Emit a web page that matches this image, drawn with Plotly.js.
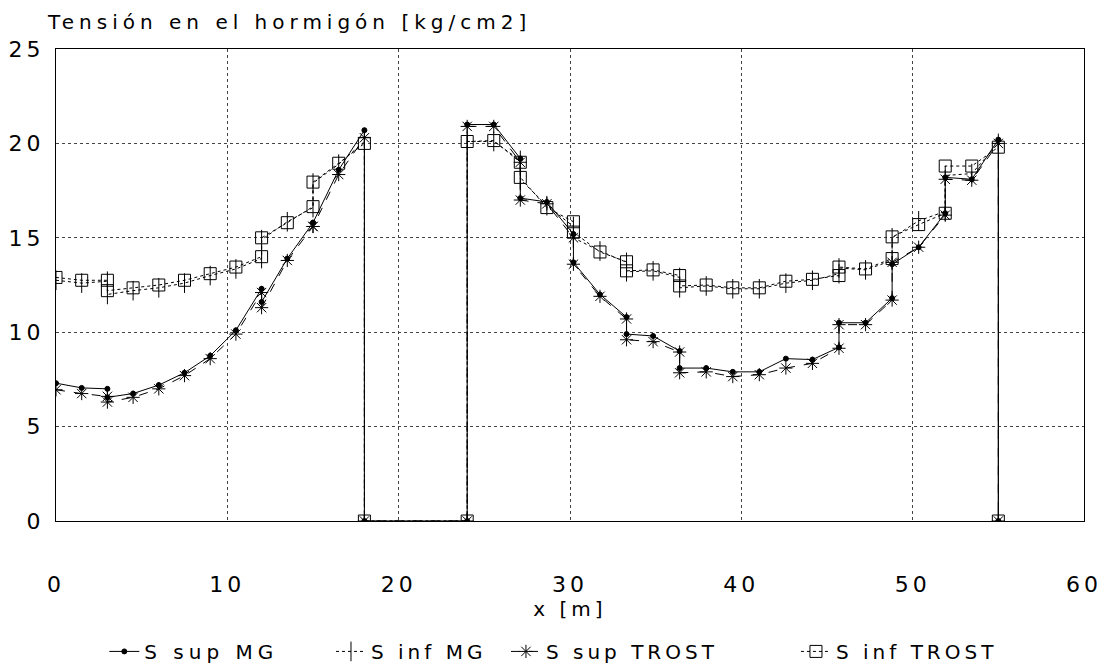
<!DOCTYPE html>
<html>
<head>
<meta charset="utf-8">
<script src="https://cdn.plot.ly/plotly-3.0.1.min.js"></script>
<style>
html,body{margin:0;padding:0;background:#fff;}
#chart{width:1108px;height:672px;}
svg text{letter-spacing:4px;}
svg .gtitle{letter-spacing:5px;}
svg .legendtext{letter-spacing:5px;}
</style>
</head>
<body>
<div id="chart"></div>
<script>
// x positions [m] (duplicated x = step in the curve)
const xLeft  = [0,1.5,3,3,4.5,6,7.5,9,10.5,12,12,13.5,15,15,16.5,18,18];
const xRight = [24,24,25.55,27.1,27.1,28.65,30.2,30.2,31.75,33.3,33.3,34.85,36.4,36.4,37.95,39.5,41.05,42.6,44.15,45.7,45.7,47.25,48.8,48.8,50.35,51.9,51.9,53.45,55,55];

const supMG_L    = [7.3,7.05,7.0,6.55,6.75,7.2,7.85,8.75,10.1,12.3,11.6,13.9,15.8,15.8,18.6,20.7,0];
const supMG_R    = [0,21.0,21.0,19.2,17.1,16.9,15.2,13.7,12.0,10.8,9.9,9.8,9.0,8.1,8.1,7.9,7.9,8.6,8.55,9.2,10.5,10.5,11.8,13.6,14.5,16.3,18.2,18.1,20.2,0];
const infMG_L    = [12.75,12.6,12.7,12.0,12.2,12.35,12.6,13.0,13.35,13.9,14.9,15.85,16.6,17.9,18.9,20.1,0];
const infMG_R    = [0,20.1,20.1,19.1,18.1,16.7,15.6,15.0,14.3,13.7,13.2,13.25,12.9,12.35,12.45,12.3,12.3,12.6,12.75,13.1,13.4,13.3,13.8,15.0,15.9,16.4,18.3,18.4,20.0,0];
const supTROST_L = [6.95,6.75,6.6,6.3,6.55,7.0,7.7,8.6,9.9,12.1,11.3,13.8,15.6,15.6,18.35,20.3,0];
const supTROST_R = [0,20.9,20.9,19.0,17.0,16.8,15.0,13.6,11.9,10.7,9.6,9.5,8.95,7.85,7.9,7.65,7.75,8.1,8.35,9.15,10.4,10.4,11.7,13.7,14.5,16.2,18.1,18.05,20.0,0];
const infTROST_L = [12.9,12.75,12.75,12.2,12.35,12.5,12.75,13.1,13.45,14.0,15.0,15.8,16.65,17.95,18.95,20.0,0];
const infTROST_R = [0,20.1,20.15,19.0,18.2,16.6,15.85,15.3,14.25,13.73,13.25,13.3,13.0,12.45,12.5,12.35,12.35,12.7,12.8,13.0,13.45,13.35,13.9,15.05,15.7,16.3,18.8,18.8,19.8,0];

const seriesNames = ['S sup MG','S inf MG','S sup TROST','S inf TROST'];
const xTickVals = [0,10,20,30,40,50,60];
const yTickVals = [0,5,10,15,20,25];

const xs = xLeft.concat(xRight);
const styles = [
  {dash:'solid', symbol:'circle', size:5},
  {dash:'dot', symbol:'line-ns-open', size:14},
  {dash:'dash', symbol:'asterisk-open', size:11},
  {dash:'dot', symbol:'square-open', size:12}
];
const ys = [supMG_L.concat(supMG_R), infMG_L.concat(infMG_R), supTROST_L.concat(supTROST_R), infTROST_L.concat(infTROST_R)];
const legendIds = ['legend','legend2','legend3','legend4'];
const legendX = [0.047, 0.2675, 0.4377, 0.7198];

const traces = seriesNames.map((n,i)=>({
  type:'scatter', mode:'lines+markers', name:n, x:xs, y:ys[i], legend:legendIds[i],
  line:{color:'#000', width:1, dash:styles[i].dash},
  marker:{symbol:styles[i].symbol, size:styles[i].size, color:'#000', line:{color:'#000', width:1}}
}));

const FONT = 'DejaVu Sans, Liberation Sans, Arial, sans-serif';
const layout = {
  width:1108, height:672,
  paper_bgcolor:'#fff', plot_bgcolor:'#fff',
  margin:{l:56, r:24, t:49, b:151, autoexpand:false},
  font:{family:FONT, color:'#000', size:20},
  title:{text:'Tensión en el hormigón [kg/cm2]', x:48/1108, xanchor:'left', y:1-22/672, yanchor:'middle',
         font:{size:20, color:'#000', family:FONT}},
  xaxis:{range:[0,60], tickvals:xTickVals, ticks:'', showline:true, mirror:true, linecolor:'#000', linewidth:1,
         showgrid:true, gridcolor:'#444', griddash:'dot', gridwidth:1, zeroline:false, automargin:false,
         ticklabelstandoff:44, tickfont:{size:22},
         title:{text:'x [m]', font:{size:20}, standoff:4}},
  yaxis:{range:[0,25], tickvals:yTickVals, ticks:'', showline:true, mirror:true, linecolor:'#000', linewidth:1,
         showgrid:true, gridcolor:'#444', griddash:'dot', gridwidth:1, zeroline:false, automargin:false,
         ticklabelstandoff:6, tickfont:{size:22}},
  showlegend:true
};
legendIds.forEach((id,i)=>{
  layout[id] = {orientation:'h', x:legendX[i], xanchor:'left', y:-0.235, yanchor:'top',
                font:{size:20, family:FONT}, bgcolor:'rgba(0,0,0,0)'};
});

Plotly.newPlot('chart', traces, layout, {displayModeBar:false, staticPlot:true});
</script>
</body>
</html>
